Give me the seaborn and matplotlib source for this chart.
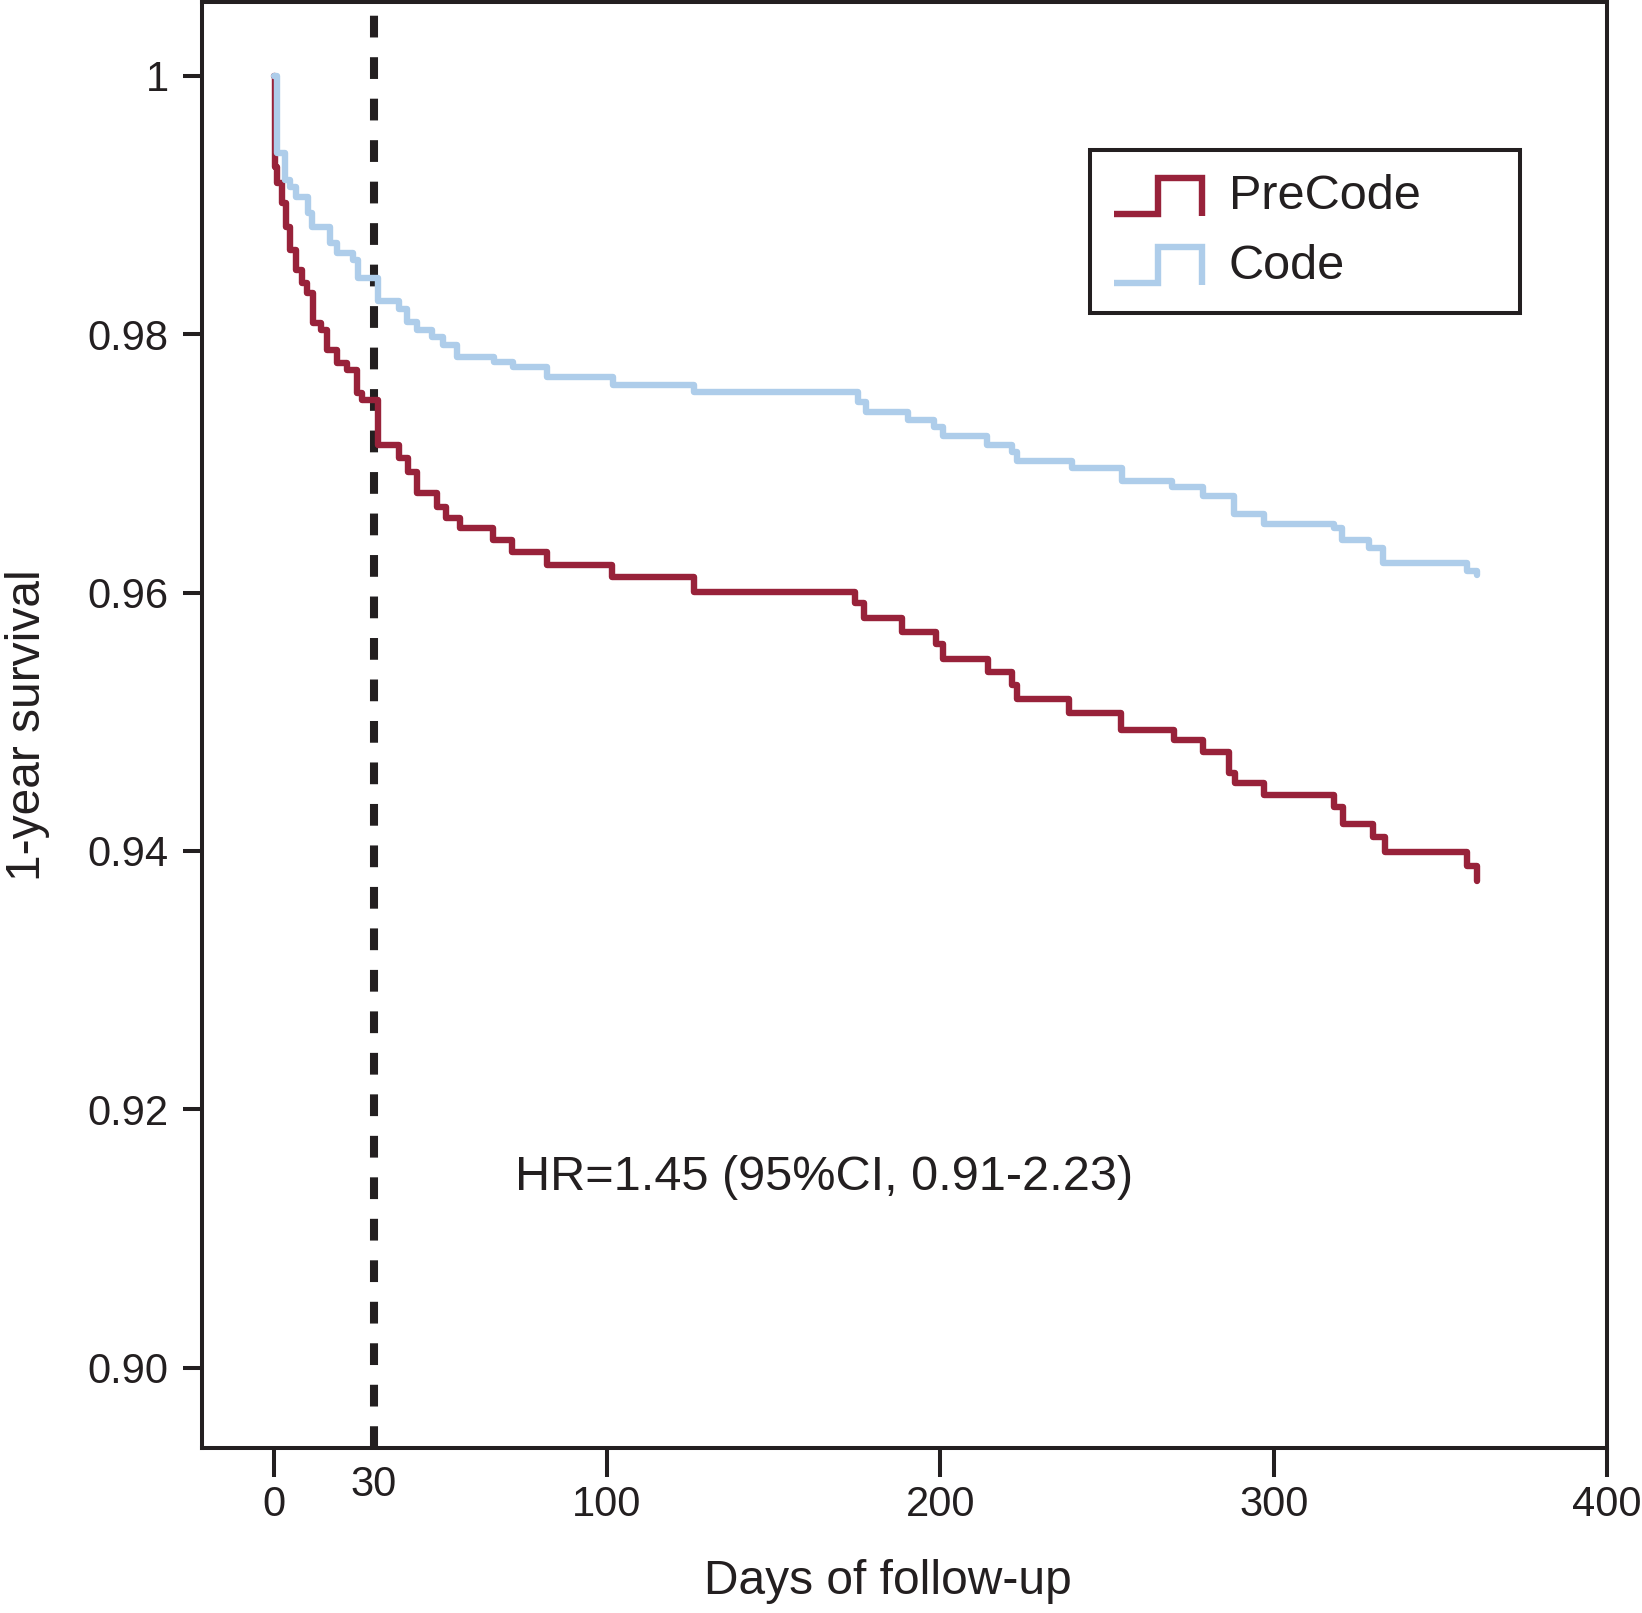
import numpy as np
import pandas as pd
import matplotlib
matplotlib.use('Agg')
import matplotlib.pyplot as plt
import seaborn as sns
from matplotlib.legend_handler import HandlerBase
from matplotlib.lines import Line2D

# Kaplan-Meier steps (day of event, survival after it)
precode_days = [0, 0.3, 1.1, 2.4, 3.6, 4.9, 6.7, 8.4, 10.1, 11.9, 14.1, 15.9, 18.9, 21.9, 24.9, 26.4,
                31.4, 37.7, 40.4, 43.1, 49.1, 51.7, 55.9, 65.9, 71.4, 82.1, 101.5, 126.1, 174.5, 177.0,
                188.5, 198.8, 200.8, 214.3, 221.4, 222.9, 238.7, 254.2, 270.2, 278.9, 286.7, 288.5,
                297.0, 318.0, 320.7, 329.7, 333.5, 358.0, 361.0]
precode_surv = [1.0, 0.99294, 0.99166, 0.99011, 0.98830, 0.98650, 0.98495, 0.98392, 0.98315, 0.98083,
                0.98031, 0.97876, 0.97773, 0.97722, 0.97541, 0.97490, 0.97142, 0.97039, 0.96935, 0.96768,
                0.96664, 0.96575, 0.96497, 0.96407, 0.96316, 0.96213, 0.96118, 0.96002, 0.95917, 0.95801,
                0.95693, 0.95600, 0.95484, 0.95388, 0.95285, 0.95175, 0.95067, 0.94938, 0.94860, 0.94765,
                0.94602, 0.94525, 0.94435, 0.94344, 0.94208, 0.94108, 0.93989, 0.93880, 0.93764]

code_days = [0, 1.1, 3.5, 4.9, 6.7, 10.4, 11.4, 16.9, 18.9, 23.9, 25.4, 31.4, 37.7, 39.9, 42.9, 47.4,
             50.9, 54.9, 66.1, 71.7, 82.1, 101.9, 126.0, 175.2, 177.7, 190.4, 198.1, 200.9, 214.1,
             221.4, 223.0, 239.5, 254.5, 269.5, 278.9, 288.2, 297.0, 318.2, 320.4, 328.5, 332.7,
             358.0, 361.0]
code_surv = [1.0, 0.99398, 0.99191, 0.99140, 0.99062, 0.98933, 0.98830, 0.98701, 0.98624, 0.98572,
             0.98435, 0.98258, 0.98191, 0.98095, 0.98031, 0.97974, 0.97915, 0.97824, 0.97786, 0.97742,
             0.97665, 0.97606, 0.97549, 0.97476, 0.97399, 0.97335, 0.97283, 0.97211, 0.97142, 0.97085,
             0.97018, 0.96964, 0.96863, 0.96814, 0.96747, 0.96606, 0.96531, 0.96497, 0.96407, 0.96343,
             0.96227, 0.96167, 0.96136]

groups = ['PreCode', 'Code']
colors = {'PreCode': '#98223A', 'Code': '#AECDEA'}
x_ticks = [0, 100, 200, 300, 400]
y_ticks = [0.90, 0.92, 0.94, 0.96, 0.98, 1.0]
y_labels = ['0.90', '0.92', '0.94', '0.96', '0.98', '1']
cutoff_day = 30
hr_text = 'HR=1.45 (95%CI, 0.91-2.23)'

df = pd.concat([
    pd.DataFrame({'day': precode_days, 'survival': precode_surv, 'group': 'PreCode'}),
    pd.DataFrame({'day': code_days, 'survival': code_surv, 'group': 'Code'}),
])

sns.set_style('ticks')
plt.rcParams['font.family'] = ['Liberation Sans', 'DejaVu Sans']
ink = '#231F20'
lw_curve = 4.6


class StepHandler(HandlerBase):
    def create_artists(self, legend, orig_handle, xdescent, ydescent, width, height, fontsize, trans):
        xs = [-xdescent + f * width for f in (0, 0.5, 0.5, 1, 1)]
        ys = [-ydescent + f * height for f in (-0.1, -0.1, 0.9, 0.9, -0.15)]
        line = Line2D(xs, ys, color=orig_handle.get_color(), lw=orig_handle.get_linewidth(),
                      solid_joinstyle='miter', solid_capstyle='butt')
        line.set_transform(trans)
        return [line]


fig = plt.figure(figsize=(16.42, 16.13), dpi=100)
ax = fig.add_axes([0.123, 0.1023, 0.8557, 0.8965])

ax.axvline(cutoff_day, color=ink, lw=5.8, linestyle=(0, (2.7, 2.45)), zorder=1)

sns.lineplot(data=df, x='day', y='survival', hue='group', hue_order=groups, palette=colors,
             drawstyle='steps-post', linewidth=lw_curve, estimator=None, legend=False, ax=ax, zorder=3)

ax.set_xlim(-21.5, 400)
ax.set_ylim(0.8938, 1.0057)

ax.set_xticks(x_ticks)
ax.set_xticklabels([str(t) for t in x_ticks])
ax.set_xticks([cutoff_day], minor=True)
ax.set_xticklabels([str(cutoff_day)], minor=True)
ax.set_yticks(y_ticks)
ax.set_yticklabels(y_labels)

ax.tick_params(axis='x', which='major', direction='out', length=21, width=2.9, pad=6,
               labelsize=30, colors=ink)
ax.tick_params(axis='x', which='minor', length=0, pad=12, labelsize=30, colors=ink)
ax.tick_params(axis='y', direction='out', length=14, width=2.9, pad=10, labelsize=30, colors=ink)

for side in ['left', 'right', 'top', 'bottom']:
    ax.spines[side].set_visible(True)
    ax.spines[side].set_linewidth(2.9)
    ax.spines[side].set_color(ink)

ax.set_xlabel('Days of follow-up', fontsize=34.5, color=ink)
ax.set_ylabel('1-year survival', fontsize=34.5, color=ink)
ax.xaxis.set_label_coords(0.488, -0.077)
ax.yaxis.set_label_coords(-0.108, 0.5)

ax.text(72.4, 0.9147, hr_text, fontsize=35, color=ink, ha='left', va='center')

handles = [Line2D([], [], color=colors[g], lw=lw_curve) for g in groups]
leg = ax.legend(handles, groups, handler_map={Line2D: StepHandler()},
                loc='upper left', bbox_to_anchor=(0.632, 0.7856, 0.306, 0.112), mode='expand',
                fontsize=35, frameon=True, fancybox=False, framealpha=1, borderpad=0.5,
                handlelength=1.8, handleheight=0.75, handletextpad=0.55, labelspacing=0.5,
                borderaxespad=0)
leg.get_frame().set_edgecolor(ink)
leg.get_frame().set_linewidth(2.9)
for t in leg.get_texts():
    t.set_color(ink)

fig.savefig('out.png', dpi=100, facecolor='white')
